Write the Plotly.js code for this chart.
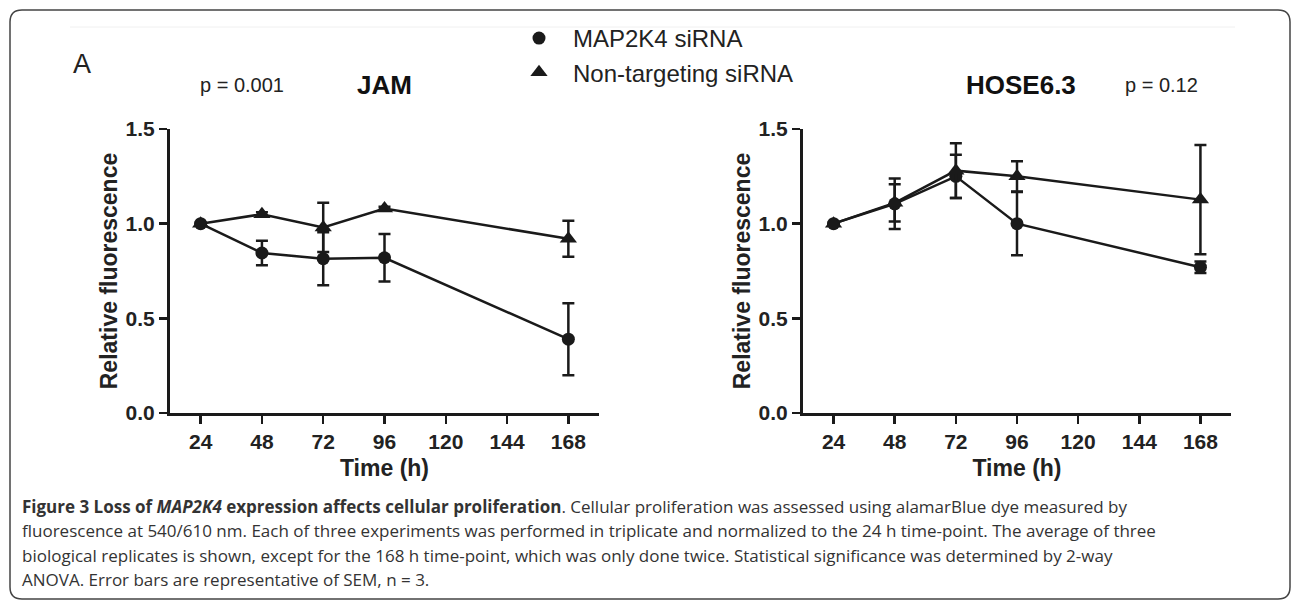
<!DOCTYPE html>
<html>
<head>
<meta charset="utf-8">
<script src="https://cdn.plot.ly/plotly-3.0.1.min.js"></script>
<style>html,body{margin:0;padding:0;background:#fff;}#chart{width:1292px;height:602px;}</style>
</head>
<body>
<div id="chart"></div>
<script>
// ---- data ----
const timeHours = [24, 48, 72, 96, 168];
const timeTicks = [24, 48, 72, 96, 120, 144, 168];

const jamMap2k4 = [1.00, 0.845, 0.815, 0.82, 0.39];
const jamMap2k4Err = [0.005, 0.065, 0.14, 0.125, 0.19];
const jamNonTarget = [1.00, 1.05, 0.98, 1.08, 0.92];
const jamNonTargetErr = [0.005, 0.01, 0.13, 0.01, 0.095];

const hoseMap2k4 = [1.00, 1.105, 1.25, 1.00, 0.77];
const hoseMap2k4Err = [0.005, 0.133, 0.114, 0.167, 0.03];
const hoseNonTarget = [1.00, 1.11, 1.28, 1.25, 1.127];
const hoseNonTargetErr = [0.005, 0.098, 0.145, 0.08, 0.288];

const seriesNames = ['MAP2K4 siRNA', 'Non-targeting siRNA'];

// ---- helpers ----
const W = 1292, H = 602;
const px = v => v / W;
const py = v => 1 - v / H;
const INK = '#1a1a1a';
const SANS = 'Liberation Sans, Arial, Helvetica, sans-serif';

function lineTrace(x, y, xa, ya) {
  return {x, y, xaxis: xa, yaxis: ya, mode: 'lines', type: 'scatter',
    line: {color: INK, width: 2.5}, showlegend: false, hoverinfo: 'skip'};
}
function markTrace(x, y, err, xa, ya, sym, name, show) {
  return {x, y, xaxis: xa, yaxis: ya, mode: 'markers', type: 'scatter', name,
    marker: {color: INK, symbol: sym, size: sym === 'circle' ? 13 : 15},
    error_y: {type: 'data', array: err, visible: true, color: INK, thickness: 2.5, width: 6},
    showlegend: show};
}

const traces = [
  lineTrace(timeHours, jamNonTarget, 'x', 'y'),
  lineTrace(timeHours, jamMap2k4, 'x', 'y'),
  markTrace(timeHours, jamMap2k4, jamMap2k4Err, 'x', 'y', 'circle', seriesNames[0], true),
  markTrace(timeHours, jamNonTarget, jamNonTargetErr, 'x', 'y', 'triangle-up', seriesNames[1], true),
  lineTrace(timeHours, hoseNonTarget, 'x2', 'y2'),
  lineTrace(timeHours, hoseMap2k4, 'x2', 'y2'),
  markTrace(timeHours, hoseMap2k4, hoseMap2k4Err, 'x2', 'y2', 'circle', seriesNames[0], false),
  markTrace(timeHours, hoseNonTarget, hoseNonTargetErr, 'x2', 'y2', 'triangle-up', seriesNames[1], false)
];

const tickFont = {family: SANS, size: 21, color: '#222', weight: 'bold'};
const titleFont = {family: SANS, size: 23, color: '#222', weight: 'bold'};

function xAxis(domain, anchor) {
  return {domain, anchor, range: [12, 180], tickvals: timeTicks, ticktext: timeTicks.map(String),
    showline: true, linecolor: INK, linewidth: 3, ticks: 'outside', ticklen: 8, tickwidth: 2.5,
    tickcolor: INK, showgrid: false, zeroline: false, tickfont: tickFont,
    title: {text: 'Time (h)', font: titleFont, standoff: 8}, fixedrange: true};
}
function yAxis(anchor) {
  return {domain: [py(413), py(129)], anchor, range: [0, 1.5], tickvals: [0, 0.5, 1.0, 1.5],
    tickformat: '.1f', showline: true, linecolor: INK, linewidth: 3, ticks: 'outside', ticklen: 8,
    tickwidth: 2.5, tickcolor: INK, showgrid: false, zeroline: false, tickfont: tickFont,
    title: {text: 'Relative fluorescence', font: titleFont, standoff: 2}, fixedrange: true};
}

const captionFont = {family: 'Open Sans, Noto Sans, sans-serif', size: 17, color: '#333'};
const captionLines = [
  '<b>Figure 3 Loss of <i>MAP2K4</i> expression affects cellular proliferation</b>. Cellular proliferation was assessed using alamarBlue dye measured by',
  'fluorescence at 540/610 nm. Each of three experiments was performed in triplicate and normalized to the 24 h time-point. The average of three',
  'biological replicates is shown, except for the 168 h time-point, which was only done twice. Statistical significance was determined by 2-way',
  'ANOVA. Error bars are representative of SEM, n = 3.'
];
const captionY = [506, 530.5, 555, 579.5];

const annotations = [
  {text: 'A', x: px(82), y: py(64), font: {family: SANS, size: 27, color: '#222'}},
  {text: 'p = 0.001', x: px(242), y: py(85), font: {family: SANS, size: 20, color: '#222'}},
  {text: 'JAM', x: px(384), y: py(85), font: {family: SANS, size: 26, color: '#111', weight: 'bold'}},
  {text: 'HOSE6.3', x: px(1021), y: py(85), font: {family: SANS, size: 26, color: '#111', weight: 'bold'}},
  {text: 'p = 0.12', x: px(1161), y: py(85), font: {family: SANS, size: 20, color: '#222'}}
].map(a => Object.assign({xref: 'paper', yref: 'paper', showarrow: false, xanchor: 'center', yanchor: 'middle'}, a));

captionLines.forEach((t, i) => annotations.push({text: t, xref: 'paper', yref: 'paper', x: px(20), y: py(captionY[i]),
  xanchor: 'left', yanchor: 'middle', showarrow: false, align: 'left', font: captionFont}));

// rounded frame
const fx0 = px(10), fx1 = px(1290), fy0 = py(10), fy1 = py(599), rx = px(12), ry = 12 / H;
const framePath = `M ${fx0 + rx} ${fy0} L ${fx1 - rx} ${fy0} Q ${fx1} ${fy0} ${fx1} ${fy0 - ry} ` +
  `L ${fx1} ${fy1 + ry} Q ${fx1} ${fy1} ${fx1 - rx} ${fy1} L ${fx0 + rx} ${fy1} Q ${fx0} ${fy1} ${fx0} ${fy1 + ry} ` +
  `L ${fx0} ${fy0 - ry} Q ${fx0} ${fy0} ${fx0 + rx} ${fy0} Z`;

const layout = {
  width: W, height: H, margin: {l: 0, r: 0, t: 0, b: 0},
  paper_bgcolor: '#fff', plot_bgcolor: 'rgba(0,0,0,0)',
  xaxis: xAxis([px(170), px(599)], 'y'),
  yaxis: yAxis('x'),
  xaxis2: xAxis([px(803), px(1231)], 'y2'),
  yaxis2: yAxis('x2'),
  showlegend: true,
  legend: {x: px(505), y: py(16), xanchor: 'left', yanchor: 'top', bgcolor: 'rgba(0,0,0,0)',
    font: {family: SANS, size: 24, color: '#222'}, itemwidth: 58, tracegroupgap: 0},
  annotations,
  shapes: [
    {type: 'path', xref: 'paper', yref: 'paper', path: framePath, line: {color: '#444', width: 1.5}},
    {type: 'line', xref: 'paper', yref: 'paper', x0: px(70), x1: px(1235), y0: py(27), y1: py(27),
      line: {color: '#f0f0f0', width: 1}}
  ]
};

Plotly.newPlot('chart', traces, layout, {displayModeBar: false, staticPlot: true});
</script>
</body>
</html>
